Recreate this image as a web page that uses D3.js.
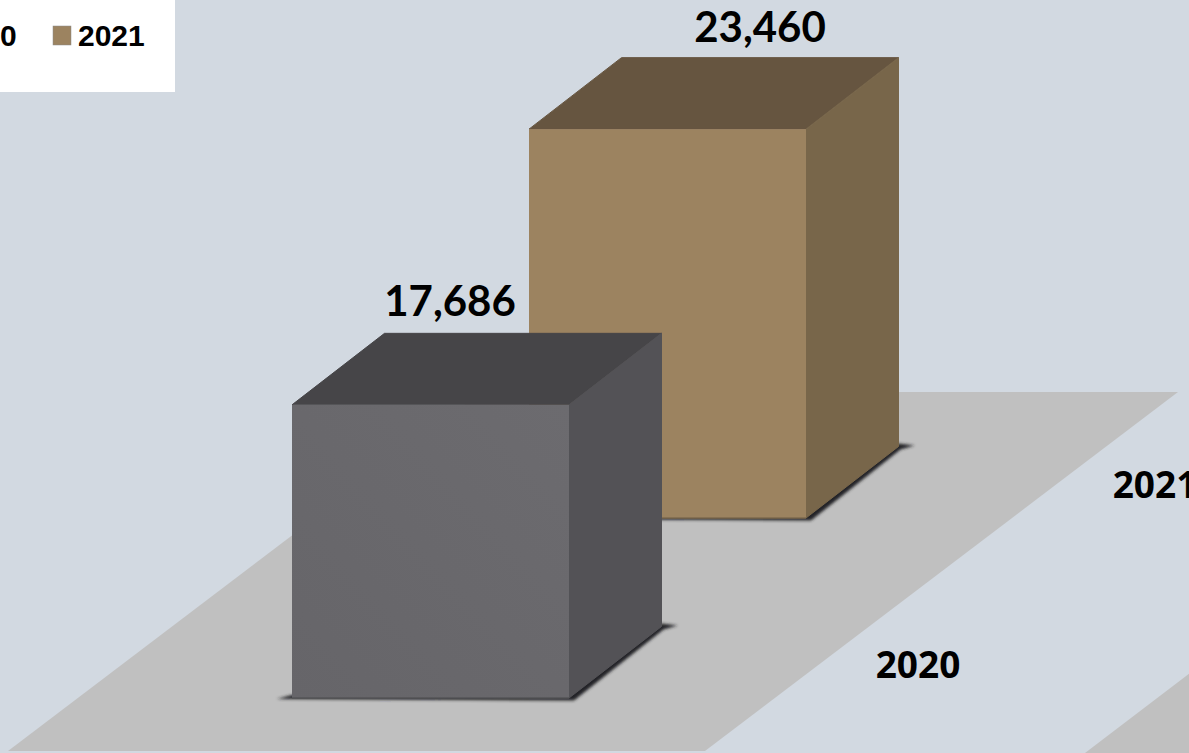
<!DOCTYPE html>
<html><head><meta charset="utf-8">
<script src="https://cdn.jsdelivr.net/npm/d3@7"></script>
<style>html,body{margin:0;padding:0;background:#d2d9e1;overflow:hidden}svg{display:block}</style>
</head><body><div id="chart"></div>
<script>
const categories = ["2020", "2021"];
const seriesValues = [17686, 23460];
const valueLabels = ["17,686", "23,460"];
const frontColors = ["#69686c", "#9c8360"];
const sideColors = ["#535256", "#78664a"];
const topColors = ["#464548", "#665540"];

const W = 1189, H = 753;
const barWidth = 277, depthX = 92.5, depthY = 71.5;
const svg = d3.select("#chart").append("svg").attr("width", W).attr("height", H);
const defs = svg.append("defs");
defs.append("filter").attr("id", "blur").attr("x", "-20%").attr("y", "-20%").attr("width", "140%").attr("height", "140%")
  .append("feGaussianBlur").attr("stdDeviation", 1.8);
const gr = defs.append("linearGradient").attr("id", "g0").attr("x1", 0).attr("y1", 1).attr("x2", 1).attr("y2", 0);
gr.append("stop").attr("offset", 0).attr("stop-color", "#666569");
gr.append("stop").attr("offset", 1).attr("stop-color", "#6c6b6f");

const xBase = d3.scalePoint().domain(categories).range([292, 529]);
const yBase = d3.scalePoint().domain(categories).range([698, 518]);
const h = d3.scaleLinear().domain([0, 25000]).range([0, 414.4]);
const poly = d3.line();

svg.append("rect").attr("width", W).attr("height", H).attr("fill", "#d2d9e1");

// floor strips, one per category plus the next one coming in on the right
const floorG = svg.append("g");
const floorBottom = 751, floorTop = 392, stripShift = 473;
[8, 1085].forEach(x0 => {
  floorG.append("path").attr("fill", "#c0c0c0")
    .attr("d", poly([[x0, floorBottom + (x0 > 1000 ? 2 : 0)], [x0 + 697, floorBottom + (x0 > 1000 ? 2 : 0)], [x0 + 697 + stripShift, floorTop], [x0 + stripShift, floorTop]]) + "Z");
});

const data = categories.map((c, i) => ({c, v: seriesValues[i], i})).reverse();
const bars = svg.selectAll("g.bar").data(data).join("g").attr("class", "bar");
bars.each(function (d) {
  const g = d3.select(this);
  const x = xBase(d.c), y = yBase(d.c), t = y - h(d.v), r = x + barWidth;
  g.append("path").attr("filter", "url(#blur)").attr("fill", "#232325")
    .attr("d", poly([[x - 15, y + 1], [r + 5, y + 2.5], [r + depthX + 2, y - depthY + 3], [r + depthX + 16, y - depthY - 1], [r + depthX, y - depthY - 3], [r, y - 3], [x, y - 3]]) + "Z");
  g.append("path").attr("fill", topColors[d.i]).attr("stroke", topColors[d.i]).attr("stroke-width", 1).attr("stroke-linejoin", "round")
    .attr("d", poly([[x, t], [r, t], [r + depthX, t - depthY], [x + depthX, t - depthY]]) + "Z");
  g.append("path").attr("fill", sideColors[d.i]).attr("stroke", sideColors[d.i]).attr("stroke-width", 1).attr("stroke-linejoin", "round")
    .attr("d", poly([[r, t], [r + depthX, t - depthY], [r + depthX, y - depthY], [r, y]]) + "Z");
  g.append("rect").attr("x", x).attr("y", t).attr("width", barWidth).attr("height", h(d.v))
    .attr("fill", d.i === 0 ? "url(#g0)" : frontColors[d.i]);
  g.append("path").attr("stroke", d3.color(frontColors[d.i]).darker(0.6)).attr("stroke-width", 1.5).attr("fill", "none")
    .attr("d", poly([[x, y], [r, y]]));
});

const labelX = [450, 760], labelY = [316, 42];
svg.selectAll("text.val").data(valueLabels).join("text").attr("class", "val")
  .attr("x", (d, i) => labelX[i]).attr("y", (d, i) => labelY[i])
  .attr("text-anchor", "middle").attr("font-family", "Lato, sans-serif").attr("font-weight", 700)
  .attr("font-size", 42).attr("fill", "#000").text(d => d);

svg.selectAll("text.cat").data(categories).join("text").attr("class", "cat")
  .attr("x", d => xBase(d) + 626).attr("y", d => yBase(d) - 20)
  .attr("text-anchor", "middle").attr("font-family", "'Open Sans', sans-serif").attr("font-weight", 700)
  .attr("font-size", 37).attr("fill", "#000").text(d => d);

// legend
svg.append("rect").attr("x", 0).attr("y", 0).attr("width", 175).attr("height", 92).attr("fill", "#fff");
const legendSwatchX = d3.scalePoint().domain(categories).range([-75, 53]);
const leg = svg.selectAll("g.leg").data(categories).join("g").attr("class", "leg");
leg.append("rect").attr("x", d => legendSwatchX(d)).attr("y", 26).attr("width", 18).attr("height", 19)
  .attr("fill", (d, i) => frontColors[i]).attr("stroke", "#8a8a8a").attr("stroke-width", 0.5);
leg.append("text").attr("x", d => legendSwatchX(d) + 25).attr("y", 46)
  .attr("font-family", "'Liberation Sans', Arial, sans-serif").attr("font-weight", 700).attr("font-size", 30)
  .attr("fill", "#000").text(d => d);
</script></body></html>
